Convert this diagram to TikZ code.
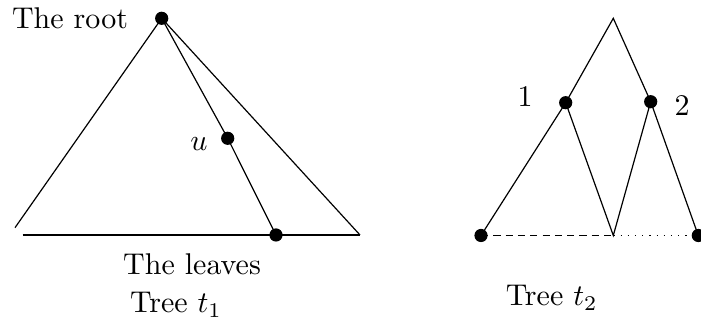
\documentclass[tikz,border=0pt]{standalone}
\begin{document}
\begin{tikzpicture}[x=0.3333pt,y=-0.3333pt,line width=0.4pt,
  dotnode/.style={circle,fill=black,inner sep=0pt,minimum size=4.4pt},
  lbl/.style={inner sep=0pt}]
\useasboundingbox (0,0) rectangle (701,323);
% Tree t1
\node[dotnode] (root) at (161.7,18.3) {};
\coordinate (lc) at (15,227.7);
\coordinate (rc) at (360,235);
\coordinate (hl) at (22.7,235);
\node[dotnode] (u) at (227.7,138.3) {};
\node[dotnode] (leaf) at (276,235) {};
\draw (root.center) -- (lc);
\draw (root.center) -- (rc);
\draw (root.center) -- (u.center) -- (leaf.center);
\draw (hl) -- (rc);
\node[lbl] (rootlbl) at (70,18) {The root};
\node[lbl] (ulbl) at (199,144) {$u$};
\node[lbl] (leaveslbl) at (192,264) {The leaves};
\node[lbl] (t1lbl) at (176,305) {Tree $t_1$};
% Tree t2
\coordinate (apex) at (613.3,18.3);
\node[dotnode] (n1) at (565.7,102.7) {};
\node[dotnode] (n2) at (650.7,101.7) {};
\node[dotnode] (bl) at (481,235.5) {};
\coordinate (mid) at (613.3,235.5);
\node[dotnode] (br) at (698.3,235.5) {};
\draw (n1.center) -- (apex) -- (n2.center);
\draw (bl.center) -- (n1.center) -- (mid) -- (n2.center) -- (br.center);
\draw[dash pattern=on 2.4pt off 1.7pt] (bl.center) -- (mid);
\draw[dotted] (mid) -- (br.center);
\node[lbl] (l1) at (525,97) {1};
\node[lbl] (l2) at (682,106) {2};
\node[lbl] (t2lbl) at (551.7,298) {Tree $t_2$};
\end{tikzpicture}
\end{document}
